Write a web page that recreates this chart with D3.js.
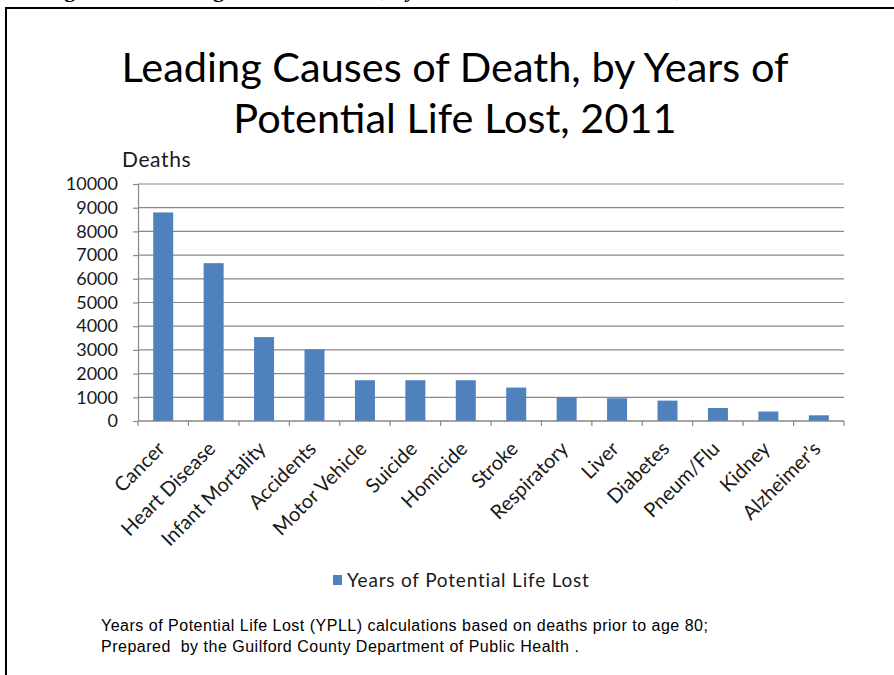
<!DOCTYPE html>
<html>
<head>
<meta charset="utf-8">
<script src="https://cdn.jsdelivr.net/npm/d3@7"></script>
<style>
  body { margin: 0; background: #fff; }
  text { font-family: Lato, "Open Sans", sans-serif; }
</style>
</head>
<body>
<div id="chart"></div>
<script>
// Data
const causes = ["Cancer", "Heart Disease", "Infant Mortality", "Accidents", "Motor Vehicle", "Suicide",
  "Homicide", "Stroke", "Respiratory", "Liver", "Diabetes", "Pneum/Flu", "Kidney", "Alzheimer\u2019s"];
const ypll = [8800, 6660, 3540, 3020, 1720, 1720, 1720, 1410, 1000, 960, 860, 550, 400, 240];
const yTicks = [0, 1000, 2000, 3000, 4000, 5000, 6000, 7000, 8000, 9000, 10000];
const seriesName = "Years of Potential Life Lost";

const W = 894, H = 675;
const plot = { left: 138, right: 844, top: 184, bottom: 421 };

const svg = d3.select("#chart")
  .append("svg")
  .attr("width", W)
  .attr("height", H);

// caption of the page above, only its descenders show
const cap = svg.append("text")
  .attr("x", 0)
  .attr("y", -3.5)
  .style("font-family", "'Liberation Serif', serif")
  .style("font-weight", "bold")
  .style("font-size", "22px")
  .text("Figure 10: Leading Causes of Death, by Years of Potential Life Lost, 2011");
// line the "g" of "Leading" up with the reference
const gIdx = cap.text().indexOf("Leading") + 6;
cap.attr("x", 213 - cap.node().getStartPositionOfChar(gIdx).x);

// frame
svg.append("path")
  .attr("d", `M6,${H} L6,8 L${W},8`)
  .attr("fill", "none")
  .attr("stroke", "#000")
  .attr("stroke-width", 2);

// title
svg.append("text")
  .attr("x", 455).attr("y", 82)
  .attr("text-anchor", "middle")
  .style("font-size", "41.5px")
  .text("Leading Causes of Death, by Years of");
svg.append("text")
  .attr("x", 455).attr("y", 133)
  .attr("text-anchor", "middle")
  .style("font-size", "41.5px")
  .text("Potential Life Lost, 2011");

// scales
const x = d3.scaleBand()
  .domain(causes)
  .range([plot.left, plot.right]);

const y = d3.scaleLinear()
  .domain([0, 10000])
  .range([plot.bottom, plot.top]);

const barW = 20;

// gridlines
svg.append("g")
  .selectAll("line")
  .data(yTicks)
  .enter().append("line")
  .attr("x1", plot.left)
  .attr("x2", plot.right)
  .attr("y1", d => y(d))
  .attr("y2", d => y(d))
  .attr("stroke", "#888")
  .attr("stroke-width", 1.2);

// y axis
const yAxis = svg.append("g")
  .attr("transform", `translate(${plot.left},0)`)
  .call(d3.axisLeft(y).tickValues(yTicks).tickSize(5).tickPadding(15).tickFormat(d3.format("d")));
yAxis.select(".domain").attr("stroke", "#888").attr("stroke-width", 1.2);
yAxis.selectAll(".tick line").attr("stroke", "#888").attr("stroke-width", 1.2);
yAxis.selectAll(".tick text")
  .style("font-size", "18px")
  .style("font-family", "Lato, sans-serif")
  .attr("fill", "#1a1a1a");

svg.append("text")
  .attr("x", 122).attr("y", 167)
  .style("font-size", "21px")
  .style("letter-spacing", "0.6px")
  .attr("fill", "#1a1a1a")
  .text("Deaths");

// bars
svg.selectAll(".bar")
  .data(causes)
  .enter().append("rect")
  .attr("class", "bar")
  .attr("x", d => x(d) + x.bandwidth() / 2 - barW / 2)
  .attr("width", barW)
  .attr("y", (d, i) => y(ypll[i]))
  .attr("height", (d, i) => y(0) - y(ypll[i]))
  .attr("fill", "#4f81bd");

// x axis: line with ticks between categories
const edges = causes.map(d => x(d)).concat([plot.right]);
svg.append("line")
  .attr("x1", plot.left).attr("x2", plot.right)
  .attr("y1", plot.bottom).attr("y2", plot.bottom)
  .attr("stroke", "#888").attr("stroke-width", 1.2);
svg.append("g")
  .selectAll("line")
  .data(edges)
  .enter().append("line")
  .attr("x1", d => d)
  .attr("x2", d => d)
  .attr("y1", plot.bottom)
  .attr("y2", plot.bottom + 5)
  .attr("stroke", "#888").attr("stroke-width", 1.2);

// category labels, rotated
svg.append("g")
  .selectAll("text")
  .data(causes)
  .enter().append("text")
  .attr("transform", d => `translate(${x(d) + x.bandwidth() / 2 + 3},${plot.bottom + 29}) rotate(-45)`)
  .attr("text-anchor", "end")
  .style("font-size", "20px")
  .attr("fill", "#1a1a1a")
  .text(d => d);

// legend
svg.append("rect")
  .attr("x", 333).attr("y", 575)
  .attr("width", 9).attr("height", 10)
  .attr("fill", "#4f81bd");
svg.append("text")
  .attr("x", 347).attr("y", 587)
  .style("font-size", "19px")
  .style("letter-spacing", "0.8px")
  .attr("fill", "#1a1a1a")
  .text(seriesName);

// footnote
const notes = [
  "Years of Potential Life Lost (YPLL) calculations based on deaths prior to age 80;",
  "Prepared  by the Guilford County Department of Public Health ."
];
svg.append("g")
  .selectAll("text")
  .data(notes)
  .enter().append("text")
  .attr("x", 101)
  .attr("y", (d, i) => 631 + i * 21)
  .style("font-family", "'Liberation Sans', Arial, sans-serif")
  .style("font-size", "16px")
  .style("letter-spacing", "0.5px")
  .style("white-space", "pre")
  .text(d => d);
</script>
</body>
</html>
